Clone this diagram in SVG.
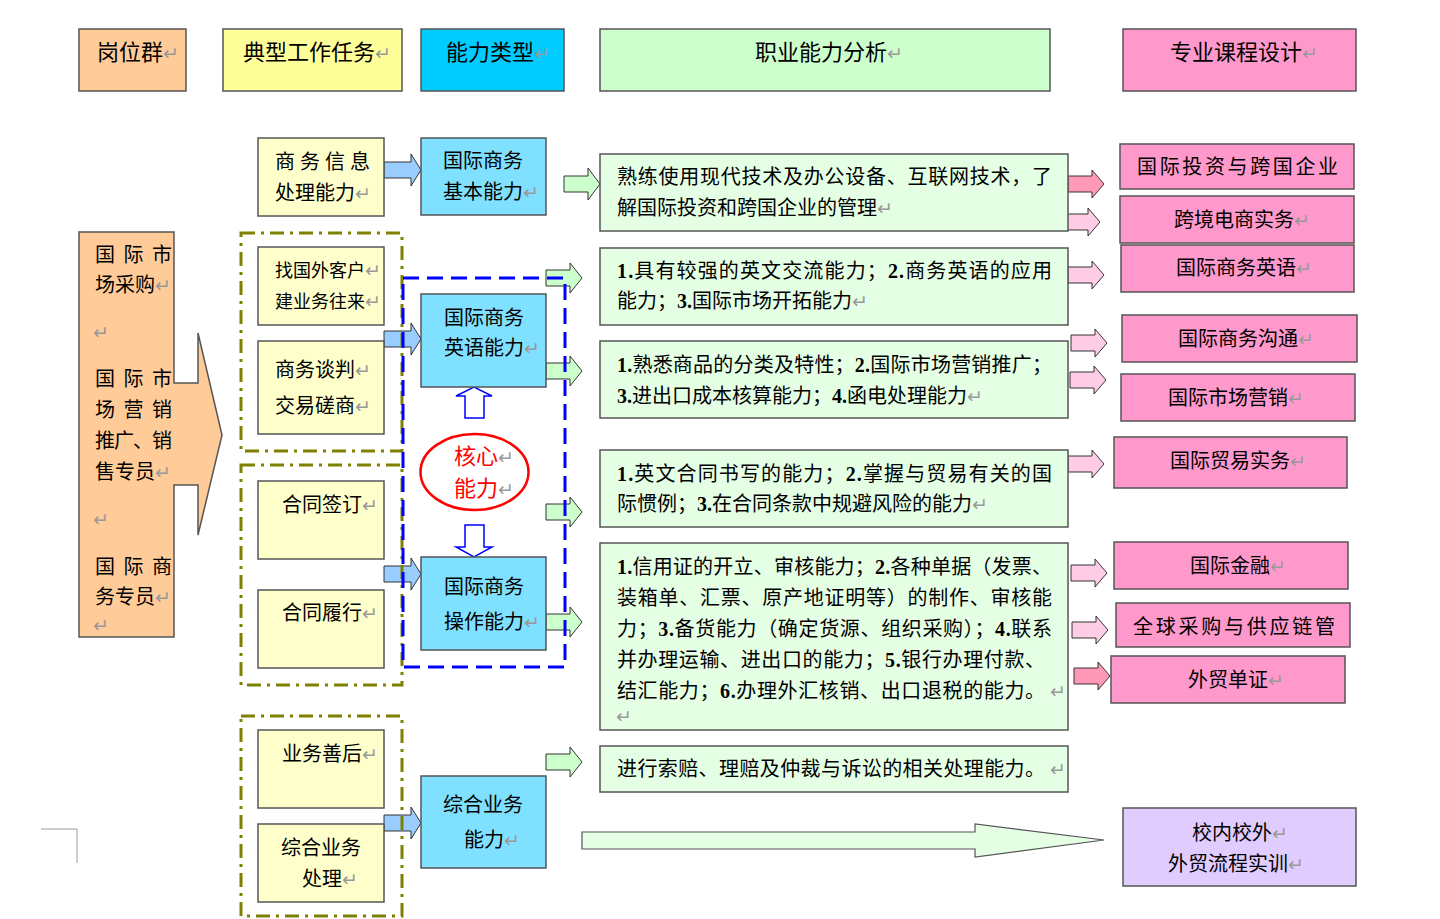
<svg xmlns="http://www.w3.org/2000/svg" width="1440" height="919" viewBox="0 0 1440 919">
<style>
.box{stroke:#555;stroke-width:1.5}
.t{font-family:"Liberation Serif","Noto Sans CJK SC",serif;font-size:20px;fill:#000}
.h{font-size:22px}
.s{font-size:18px}
.r{font-family:"DejaVu Sans",sans-serif;font-size:19px;fill:#999}
.b{font-weight:bold}
.ar{stroke:#333;stroke-width:1}
.blue{fill:#99CCFF}
.grn{fill:#CCFFCC}
.pk{fill:#FFCCE6}
.pk2{fill:#FF99B8}
.olive{fill:none;stroke:#808000;stroke-width:3;stroke-dasharray:14 6 3 6}
.core{fill:none;stroke:#0000FF;stroke-width:3;stroke-dasharray:16 8}
.hollow{fill:#fff;stroke:#0000FF;stroke-width:1.5}
.red{fill:#FF0000;font-size:22px}
</style>
<rect width="1440" height="919" fill="#fff"/>

<g id="headers">
<g id="h1"><rect class="box" x="79" y="29" width="107" height="62" fill="#FFCC99"/><text class="t h" x="97" y="60">岗位群<tspan class="r">↵</tspan></text></g>
<g id="h2"><rect class="box" x="223" y="29" width="179" height="62" fill="#FFFF99"/><text class="t h" x="243" y="60">典型工作任务<tspan class="r">↵</tspan></text></g>
<g id="h3"><rect class="box" x="421" y="29" width="143" height="62" fill="#00CCFF"/><text class="t h" x="446" y="60">能力类型<tspan class="r">↵</tspan></text></g>
<g id="h4"><rect class="box" x="600" y="29" width="450" height="62" fill="#CCFFCC"/><text class="t h" x="755" y="60">职业能力分析<tspan class="r">↵</tspan></text></g>
<g id="h5"><rect class="box" x="1123" y="29" width="233" height="62" fill="#FF99CC"/><text class="t h" x="1170" y="60">专业课程设计<tspan class="r">↵</tspan></text></g>
</g>

<g id="connectors">
<path class="ar blue" d="M384,162 H411 V154 L421,170 L411,186 V178 H384 Z"/>
<path class="ar blue" d="M384,331 H411 V323 L421,339 L411,355 V347 H384 Z"/>
<path class="ar blue" d="M384,566 H411 V558 L421,574 L411,590 V582 H384 Z"/>
<path class="ar blue" d="M384,815 H411 V807 L421,823 L411,839 V831 H384 Z"/>

<path class="ar grn" d="M564,176 H588 V168 L600,184 L588,200 V192 H564 Z"/>
<path class="ar grn" d="M546,270 H570 V263 L582,278 L570,293 V286 H546 Z"/>
<path class="ar grn" d="M546,363 H570 V356 L582,371 L570,386 V379 H546 Z"/>
<path class="ar grn" d="M546,504 H570 V497 L582,512 L570,527 V520 H546 Z"/>
<path class="ar grn" d="M546,614 H570 V607 L582,622 L570,637 V630 H546 Z"/>
<path class="ar grn" d="M546,754 H570 V747 L582,762 L570,777 V770 H546 Z"/>

<path class="ar pk2" d="M1068,176 H1092 V170 L1104,184 L1092,198 V192 H1068 Z"/>
<path class="ar pk" d="M1066,214 H1088 V208 L1100,222 L1088,236 V230 H1066 Z"/>
<path class="ar pk" d="M1068,267 H1092 V261 L1104,275 L1092,289 V283 H1068 Z"/>
<path class="ar pk" d="M1071,335 H1095 V329 L1107,343 L1095,357 V351 H1071 Z"/>
<path class="ar pk" d="M1070,372 H1094 V366 L1106,380 L1094,394 V388 H1070 Z"/>
<path class="ar pk" d="M1068,456 H1092 V450 L1104,464 L1092,478 V472 H1068 Z"/>
<path class="ar pk" d="M1071,565 H1095 V559 L1107,573 L1095,587 V581 H1071 Z"/>
<path class="ar pk" d="M1072,622 H1096 V616 L1108,630 L1096,644 V638 H1072 Z"/>
<path class="ar pk2" d="M1074,668 H1098 V662 L1110,676 L1098,690 V684 H1074 Z"/>

<path class="hollow" d="M465,418 V396 H456 L474,387 L492,396 H484 V418 Z"/>
<path class="hollow" d="M465,525 H484 V547 H492 L474,557 L456,547 H465 Z"/>

<path d="M582,832 H975 V824 L1104,840 L975,857 V849 H582 Z" fill="#E5FFE5" stroke="#555" stroke-width="1.2"/>
</g>

<g id="post-group">
<path d="M79,232 H174 V383 H198 V333 L222,435 L198,535 V485 H174 V637 H79 Z" fill="#FFCC99" class="box"/>
<text class="t" x="95" y="262" textLength="77" lengthAdjust="spacing">国际市</text>
<text class="t" x="95" y="292">场采购<tspan class="r">↵</tspan></text>
<text class="t" x="93" y="339"><tspan class="r">↵</tspan></text>
<text class="t" x="95" y="386" textLength="77" lengthAdjust="spacing">国际市</text>
<text class="t" x="95" y="417" textLength="77" lengthAdjust="spacing">场营销</text>
<text class="t" x="95" y="448" textLength="77" lengthAdjust="spacing">推广、销</text>
<text class="t" x="95" y="479">售专员<tspan class="r">↵</tspan></text>
<text class="t" x="93" y="526"><tspan class="r">↵</tspan></text>
<text class="t" x="95" y="574" textLength="77" lengthAdjust="spacing">国际商</text>
<text class="t" x="95" y="604">务专员<tspan class="r">↵</tspan></text>
<text class="t" x="93" y="632"><tspan class="r" font-size="12">↵</tspan></text>
</g>

<g id="task1"><rect class="box" x="258" y="138" width="126" height="78" fill="#FFFFCC"/>
<text class="t" x="275" y="169" textLength="95" lengthAdjust="spacing">商务信息</text>
<text class="t" x="275" y="200">处理能力<tspan class="r">↵</tspan></text></g>
<g id="task2"><rect class="box" x="258" y="247" width="126" height="78" fill="#FFFFCC"/>
<text class="t s" x="275" y="277">找国外客户<tspan class="r" font-size="16">↵</tspan></text>
<text class="t s" x="275" y="308">建业务往来<tspan class="r" font-size="16">↵</tspan></text></g>
<g id="task3"><rect class="box" x="258" y="341" width="126" height="93" fill="#FFFFCC"/>
<text class="t" x="275" y="377">商务谈判<tspan class="r">↵</tspan></text>
<text class="t" x="275" y="413">交易磋商<tspan class="r">↵</tspan></text></g>
<g id="task4"><rect class="box" x="258" y="481" width="126" height="78" fill="#FFFFCC"/>
<text class="t" x="282" y="512">合同签订<tspan class="r">↵</tspan></text></g>
<g id="task5"><rect class="box" x="258" y="590" width="126" height="78" fill="#FFFFCC"/>
<text class="t" x="282" y="620">合同履行<tspan class="r">↵</tspan></text></g>
<g id="task6"><rect class="box" x="258" y="730" width="126" height="78" fill="#FFFFCC"/>
<text class="t" x="282" y="761">业务善后<tspan class="r">↵</tspan></text></g>
<g id="task7"><rect class="box" x="258" y="824" width="126" height="78" fill="#FFFFCC"/>
<text class="t" x="281" y="855">综合业务</text>
<text class="t" x="302" y="886">处理<tspan class="r">↵</tspan></text></g>

<g id="ab1"><rect class="box" x="421" y="138" width="125" height="77" fill="#80E0FF"/>
<text class="t" x="443" y="168">国际商务</text>
<text class="t" x="443" y="199">基本能力<tspan class="r">↵</tspan></text></g>
<g id="ab2"><rect class="box" x="421" y="294" width="125" height="93" fill="#80E0FF"/>
<text class="t" x="444" y="325">国际商务</text>
<text class="t" x="444" y="355">英语能力<tspan class="r">↵</tspan></text></g>
<g id="ab3"><rect class="box" x="421" y="557" width="125" height="93" fill="#80E0FF"/>
<text class="t" x="444" y="594">国际商务</text>
<text class="t" x="444" y="629">操作能力<tspan class="r">↵</tspan></text></g>
<g id="ab4"><rect class="box" x="421" y="776" width="125" height="92" fill="#80E0FF"/>
<text class="t" x="443" y="812">综合业务</text>
<text class="t" x="464" y="847">能力<tspan class="r">↵</tspan></text></g>

<g id="core"><ellipse cx="474.5" cy="472" rx="54" ry="38" fill="#fff" stroke="#FF0000" stroke-width="2.5"/>
<text class="t red" x="454" y="464">核心<tspan class="r">↵</tspan></text>
<text class="t red" x="454" y="496">能力<tspan class="r">↵</tspan></text></g>

<g id="an1"><rect class="box" x="600" y="154" width="468" height="77" fill="#E5FFE5"/>
<text class="t" x="617" y="184" textLength="435" lengthAdjust="spacing">熟练使用现代技术及办公设备、互联网技术，了</text>
<text class="t" x="617" y="215">解国际投资和跨国企业的管理<tspan class="r">↵</tspan></text></g>
<g id="an2"><rect class="box" x="600" y="248" width="468" height="77" fill="#E5FFE5"/>
<text class="t" x="617" y="278" textLength="435" lengthAdjust="spacing"><tspan class="b">1.</tspan>具有较强的英文交流能力；<tspan class="b">2.</tspan>商务英语的应用</text>
<text class="t" x="617" y="308">能力；<tspan class="b">3.</tspan>国际市场开拓能力<tspan class="r">↵</tspan></text></g>
<g id="an3"><rect class="box" x="600" y="341" width="468" height="77" fill="#E5FFE5"/>
<text class="t" x="617" y="372" textLength="435" lengthAdjust="spacing"><tspan class="b">1.</tspan>熟悉商品的分类及特性；<tspan class="b">2.</tspan>国际市场营销推广；</text>
<text class="t" x="617" y="403"><tspan class="b">3.</tspan>进出口成本核算能力；<tspan class="b">4.</tspan>函电处理能力<tspan class="r">↵</tspan></text></g>
<g id="an4"><rect class="box" x="600" y="450" width="468" height="77" fill="#E5FFE5"/>
<text class="t" x="617" y="481" textLength="435" lengthAdjust="spacing"><tspan class="b">1.</tspan>英文合同书写的能力；<tspan class="b">2.</tspan>掌握与贸易有关的国</text>
<text class="t" x="617" y="511">际惯例；<tspan class="b">3.</tspan>在合同条款中规避风险的能力<tspan class="r">↵</tspan></text></g>
<g id="an5"><rect class="box" x="600" y="543" width="468" height="187" fill="#E5FFE5"/>
<text class="t" x="617" y="574" textLength="435" lengthAdjust="spacing"><tspan class="b">1.</tspan>信用证的开立、审核能力；<tspan class="b">2.</tspan>各种单据（发票、</text>
<text class="t" x="617" y="605" textLength="435" lengthAdjust="spacing">装箱单、汇票、原产地证明等）的制作、审核能</text>
<text class="t" x="617" y="636" textLength="435" lengthAdjust="spacing">力；<tspan class="b">3.</tspan>备货能力（确定货源、组织采购）；<tspan class="b">4.</tspan>联系</text>
<text class="t" x="617" y="667" textLength="428" lengthAdjust="spacing">并办理运输、进出口的能力；<tspan class="b">5.</tspan>银行办理付款、</text>
<text class="t" x="617" y="698" textLength="428" lengthAdjust="spacing">结汇能力；<tspan class="b">6.</tspan>办理外汇核销、出口退税的能力。</text>
<text class="t" x="1050" y="698"><tspan class="r">↵</tspan></text>
<text class="t" x="616" y="723"><tspan class="r" font-size="12">↵</tspan></text></g>
<g id="an6"><rect class="box" x="600" y="746" width="468" height="46" fill="#E5FFE5"/>
<text class="t" x="617" y="776" textLength="428" lengthAdjust="spacing">进行索赔、理赔及仲裁与诉讼的相关处理能力。</text>
<text class="t" x="1050" y="776"><tspan class="r">↵</tspan></text></g>

<g id="c1"><rect class="box" x="1120" y="144" width="234" height="45" fill="#FF99CC"/>
<text class="t" x="1137" y="174" textLength="201" lengthAdjust="spacing">国际投资与跨国企业</text></g>
<g id="c2"><rect class="box" x="1120" y="196" width="234" height="47" fill="#FF99CC"/>
<text class="t" x="1174" y="227">跨境电商实务<tspan class="r">↵</tspan></text></g>
<g id="c3"><rect class="box" x="1121" y="245" width="233" height="47" fill="#FF99CC"/>
<text class="t" x="1176" y="275">国际商务英语<tspan class="r">↵</tspan></text></g>
<g id="c4"><rect class="box" x="1122" y="315" width="235" height="47" fill="#FF99CC"/>
<text class="t" x="1178" y="346">国际商务沟通<tspan class="r">↵</tspan></text></g>
<g id="c5"><rect class="box" x="1121" y="374" width="234" height="47" fill="#FF99CC"/>
<text class="t" x="1168" y="405" font-size="23">国际市场营销<tspan class="r">↵</tspan></text></g>
<g id="c6"><rect class="box" x="1114" y="437" width="233" height="51" fill="#FF99CC"/>
<text class="t" x="1170" y="468">国际贸易实务<tspan class="r">↵</tspan></text></g>
<g id="c7"><rect class="box" x="1114" y="542" width="234" height="47" fill="#FF99CC"/>
<text class="t" x="1190" y="573">国际金融<tspan class="r">↵</tspan></text></g>
<g id="c8"><rect class="box" x="1116" y="603" width="234" height="44" fill="#FF99CC"/>
<text class="t" x="1133" y="634" textLength="202" lengthAdjust="spacing">全球采购与供应链管</text></g>
<g id="c9"><rect class="box" x="1111" y="656" width="234" height="47" fill="#FF99CC"/>
<text class="t" x="1188" y="687">外贸单证<tspan class="r">↵</tspan></text></g>
<g id="c10"><rect class="box" x="1123" y="808" width="233" height="78" fill="#E0CCFF"/>
<text class="t" x="1192" y="840">校内校外<tspan class="r">↵</tspan></text>
<text class="t" x="1168" y="871">外贸流程实训<tspan class="r">↵</tspan></text></g>

<g id="frames">
<rect class="olive" x="241" y="233" width="161" height="218"/>
<rect class="olive" x="241" y="465" width="161" height="220"/>
<rect class="olive" x="241" y="716" width="161" height="200"/>
<rect class="core" x="403" y="278" width="162" height="389"/>
</g>

<polyline points="41,829 77,829 77,863" fill="none" stroke="#999" stroke-width="1"/>
</svg>
